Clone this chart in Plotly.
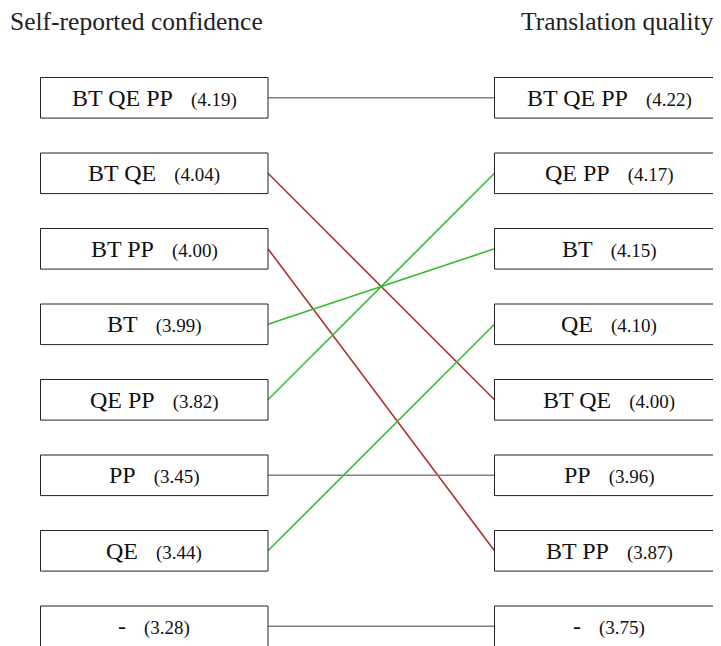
import plotly.graph_objects as go

# Data
left_title = "Self-reported confidence"
right_title = "Translation quality"
left_labels = ["BT QE PP", "BT QE", "BT PP", "BT", "QE PP", "PP", "QE", "-"]
left_values = [4.19, 4.04, 4.00, 3.99, 3.82, 3.45, 3.44, 3.28]
right_labels = ["BT QE PP", "QE PP", "BT", "QE", "BT QE", "PP", "BT PP", "-"]
right_values = [4.22, 4.17, 4.15, 4.10, 4.00, 3.96, 3.87, 3.75]

# Layout geometry (pixel-like x units, rank y units)
VIEW_W, VIEW_H = 721, 646
PAGE_MARGIN = 8  # browser body margin offset
FIG_W, FIG_H = VIEW_W - PAGE_MARGIN, VIEW_H - PAGE_MARGIN
LX0, LX1 = 40.5, 268
RX0, RX1 = 494.5, 724
row0_px, row_step_px = 97.8, 75.5
box_half = 20.3 / row_step_px

FONT = "Liberation Serif"
GREEN = "#33bb33"
RED = "#b03030"
GRAY = "#808080"
MAIN_SIZE = 24
VAL_SIZE = 19

fig = go.Figure()
shapes = []
annotations = []

def box(x0, x1, rank):
    shapes.append(dict(type="rect", xref="x", yref="y", x0=x0, x1=x1,
                       y0=rank - box_half, y1=rank + box_half,
                       line=dict(color="#222222", width=1), fillcolor="white"))

def label(xc, rank, lab, val):
    annotations.append(dict(x=xc, y=rank, xref="x", yref="y", showarrow=False,
                            text=f"{lab}&nbsp;&nbsp; <span style='font-size:{VAL_SIZE}px'>({val:.2f})</span>",
                            font=dict(family=FONT, size=MAIN_SIZE, color="#111111")))

for i, (lab, val) in enumerate(zip(left_labels, left_values)):
    box(LX0, LX1, i)
    label((LX0 + LX1) / 2, i, lab, val)
for i, (lab, val) in enumerate(zip(right_labels, right_values)):
    box(RX0, RX1, i)
    label((RX0 + RX1) / 2, i, lab, val)

for i, lab in enumerate(left_labels):
    j = right_labels.index(lab)
    color = GRAY if j == i else (GREEN if j < i else RED)
    fig.add_trace(go.Scatter(x=[LX1, RX0], y=[i, j], mode="lines",
                             line=dict(color=color, width=1.6),
                             hoverinfo="skip", showlegend=False))

y_top = -(row0_px - PAGE_MARGIN) / row_step_px
y_bot = y_top + FIG_H / row_step_px
title_y = y_top + (21 - PAGE_MARGIN) / row_step_px

annotations.append(dict(x=136, y=title_y, xref="x", yref="y", showarrow=False,
                        text=left_title, font=dict(family=FONT, size=25.5, color="#222222")))
annotations.append(dict(x=617, y=title_y, xref="x", yref="y", showarrow=False,
                        text=right_title, font=dict(family=FONT, size=25.5, color="#222222")))

fig.update_layout(
    width=FIG_W, height=FIG_H,
    margin=dict(l=0, r=0, t=0, b=0),
    paper_bgcolor="white", plot_bgcolor="white",
    xaxis=dict(range=[PAGE_MARGIN, PAGE_MARGIN + FIG_W], visible=False, fixedrange=True),
    yaxis=dict(range=[y_bot, y_top], visible=False, fixedrange=True),
    shapes=shapes, annotations=annotations,
)

fig.write_html("out.html")
